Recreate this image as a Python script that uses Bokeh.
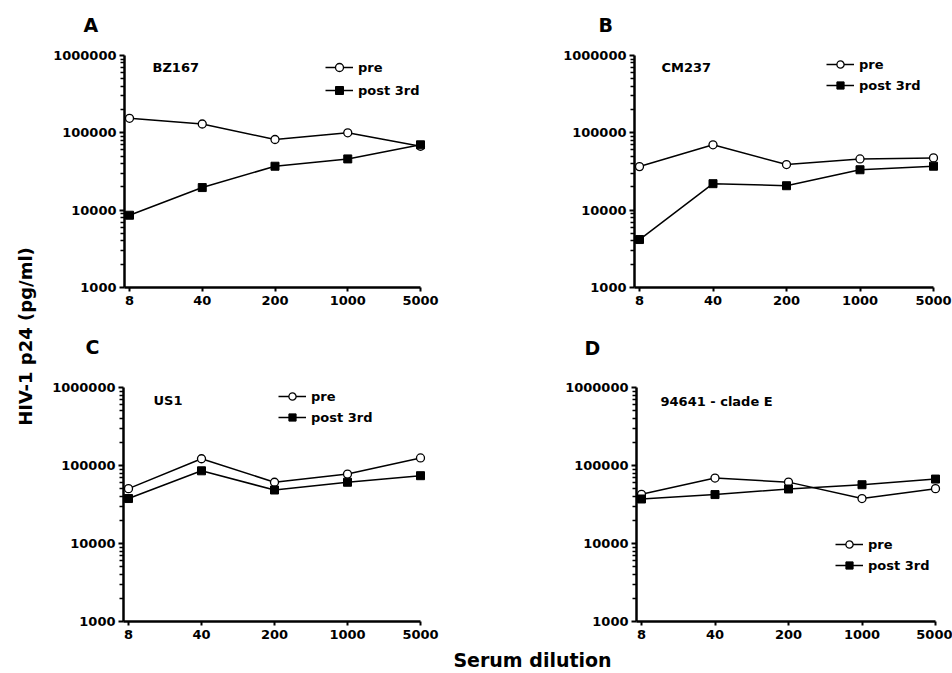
import math
from bokeh.plotting import figure
from bokeh.models import (FixedTicker, Label, Legend, LegendItem, Range1d,
                          NumeralTickFormatter)
from bokeh.layouts import row, column
from bokeh.embed import file_html
from bokeh.resources import INLINE

# ---------------- data ----------------
dilutions = [8, 40, 200, 1000, 5000]
x_tick_labels = ["8", "40", "200", "1000", "5000"]
y_ticks = [1000, 10000, 100000, 1000000]

panel_letters = ["A", "B", "C", "D"]
strains = ["BZ167", "CM237", "US1", "94641 - clade E"]
series_names = ["pre", "post 3rd"]

pre_A = [154000, 130000, 82000, 100000, 67000]
post_A = [8600, 19600, 37000, 46000, 70000]
pre_B = [36600, 70000, 38900, 46000, 47400]
post_B = [4170, 22000, 20700, 33300, 37000]
pre_C = [50500, 122000, 61000, 77600, 125000]
post_C = [37700, 85500, 48500, 61000, 74000]
pre_D = [42700, 69000, 61200, 37700, 50500]
post_D = [37200, 42400, 50000, 56700, 67000]

y_title = "HIV-1 p24 (pg/ml)"
x_title = "Serum dilution"

FONT = "DejaVu Sans"
minor_y = [m * 10 ** e for e in (3, 4, 5) for m in range(2, 10)]
EDGE_PAD = 5  # px of room so edge markers are not clipped


def blank(width, height):
    f = figure(width=width, height=height, output_backend="svg",
               toolbar_location=None, title=None,
               x_axis_location=None, y_axis_location=None, min_border=0)
    f.outline_line_color = None
    f.grid.visible = False
    return f


def text_label(f, x, y, text, size, align="left", angle=0.0):
    f.add_layout(Label(x=x, y=y, x_units="screen", y_units="screen", text=text,
                       text_font=FONT, text_font_style="bold",
                       text_font_size=size, text_align=align,
                       text_baseline="middle", text_color="black", angle=angle))


def header(width, height, letter, x, y):
    h = blank(width, height)
    text_label(h, x, y, letter, "19px")
    return h


def panel(strain, pre, post, width, height, bl, br, bt, bb,
          lab_x, lab_y, leg_x, leg_y, leg_h):
    frame_w = width - bl - br
    decades = math.log10(dilutions[-1] / dilutions[0])
    pad_dec = EDGE_PAD * decades / (frame_w - 2 * EDGE_PAD)
    x_lo = dilutions[0] * 10 ** (-pad_dec)
    x_hi = dilutions[-1] * 10 ** pad_dec
    p = figure(width=width, height=height, x_axis_type="log", y_axis_type="log",
               x_range=Range1d(x_lo, x_hi), y_range=Range1d(y_ticks[0], y_ticks[-1]),
               output_backend="svg", toolbar_location=None, title=None,
               min_border_left=bl, min_border_right=br,
               min_border_top=bt, min_border_bottom=bb)
    p.outline_line_color = None
    p.xgrid.visible = False
    p.ygrid.visible = False
    p.background_fill_color = "white"
    p.border_fill_color = "white"

    # axes
    p.xaxis.ticker = FixedTicker(ticks=dilutions, minor_ticks=[])
    p.xaxis.major_label_overrides = {d: s for d, s in zip(dilutions, x_tick_labels)}
    p.xaxis.bounds = (x_lo, dilutions[-1])
    p.yaxis.ticker = FixedTicker(ticks=y_ticks, minor_ticks=minor_y)
    p.yaxis.formatter = NumeralTickFormatter(format="0")
    for ax in (p.xaxis[0], p.yaxis[0]):
        ax.axis_line_width = 2.5
        ax.axis_line_color = "black"
        ax.major_tick_line_color = "black"
        ax.major_tick_line_width = 2
        ax.major_tick_in = 0
        ax.major_label_text_font = FONT
        ax.major_label_text_font_style = "bold"
        ax.major_label_text_font_size = "13px"
        ax.major_label_text_color = "black"
    p.xaxis.major_tick_out = 4
    p.xaxis.major_label_standoff = 4
    p.yaxis.major_tick_out = 5
    p.yaxis.major_label_standoff = 3
    p.yaxis.minor_tick_out = 4
    p.yaxis.minor_tick_in = 0
    p.yaxis.minor_tick_line_color = "black"
    p.yaxis.minor_tick_line_width = 1.5

    # data
    l_pre = p.line(dilutions, pre, line_color="black", line_width=1.5)
    l_post = p.line(dilutions, post, line_color="black", line_width=1.5)
    m_pre = p.scatter(dilutions, pre, marker="circle", size=8,
                      fill_color="white", line_color="black", line_width=1.3)
    m_post = p.scatter(dilutions, post, marker="square", size=8,
                       fill_color="black", line_color="black", line_width=1)

    text_label(p, lab_x, lab_y, strain, "13px")

    legend = Legend(items=[LegendItem(label=series_names[0], renderers=[l_pre, m_pre]),
                           LegendItem(label=series_names[1], renderers=[l_post, m_post])],
                    location=(leg_x, leg_y), padding=0, margin=0, spacing=3,
                    glyph_width=28, glyph_height=leg_h, label_height=leg_h,
                    label_standoff=5, border_line_color=None,
                    background_fill_alpha=0,
                    label_text_font=FONT, label_text_font_style="bold",
                    label_text_font_size="13px", label_text_color="black")
    p.add_layout(legend)
    return p


hA = header(431, 40, panel_letters[0], 38, 16)
hB = header(476, 40, panel_letters[1], 122, 16)
pA = panel(strains[0], pre_A, post_A, 431, 271, 79, 51, 11, 24, 28, 220, 201, 187, 20)
pB = panel(strains[1], pre_B, post_B, 476, 271, 158, 14, 15, 23, 27, 220, 192, 193, 18)
hC = header(431, 54, panel_letters[2], 40, 19)
hD = header(476, 54, panel_letters[3], 108, 18)
pC = panel(strains[2], pre_C, post_C, 431, 280, 78, 51, 22, 24, 30, 221, 155, 195, 18)
pD = panel(strains[3], pre_D, post_D, 476, 280, 160, 12, 22, 24, 24, 220, 199, 47, 18)

# shared axis titles
yl = blank(45, 673)
text_label(yl, 25, 337, y_title, "18px", align="center", angle=math.pi / 2)
xl = blank(907, 28)
text_label(xl, 487, 14, x_title, "19px", align="center")

layout = row(yl, column(row(hA, hB), row(pA, pB), row(hC, hD), row(pC, pD), xl))

open("out.html", "w").write(file_html(layout, INLINE))
